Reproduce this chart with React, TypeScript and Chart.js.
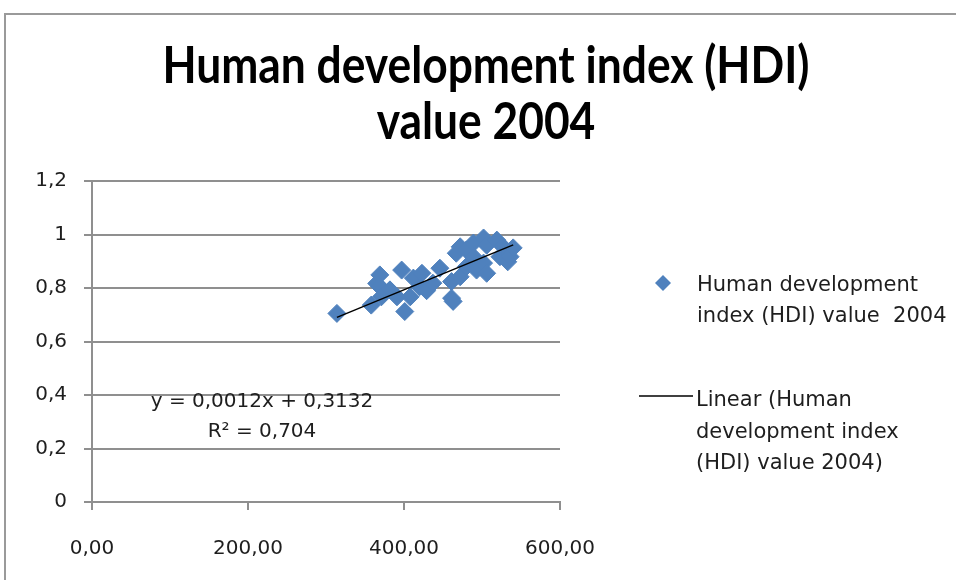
import React, { useEffect, useRef } from "react";
import { Chart, registerables } from "chart.js";

Chart.register(...registerables);

// ---- Data ----
const TITLE_LINES = ["Human development index (HDI)", "value 2004"];
const SERIES_LABEL_LINES = ["Human development", "index (HDI) value  2004"];
const TREND_LABEL_LINES = ["Linear (Human", "development index", "(HDI) value 2004)"];
const EQUATION_TEXT = "y = 0,0012x + 0,3132";
const R2_TEXT = "R\u00B2 = 0,704";
const TREND_SLOPE = 0.0012;
const TREND_INTERCEPT = 0.3132;

const xValues = [
  314, 358, 365, 369, 369, 371, 382, 391, 397, 401,
  408, 412, 420, 423, 429, 437, 446, 461, 461, 463,
  467, 472, 472, 480, 480, 489, 489, 493, 502, 502,
  506, 506, 519, 523, 527, 533, 536, 540,
];
const yValues = [
  0.705, 0.736, 0.817, 0.849, 0.805, 0.767, 0.793, 0.767, 0.867, 0.712,
  0.767, 0.837, 0.805, 0.855, 0.79, 0.818, 0.874, 0.824, 0.762, 0.75,
  0.93, 0.954, 0.842, 0.942, 0.88, 0.968, 0.917, 0.867, 0.987, 0.893,
  0.96, 0.855, 0.979, 0.917, 0.954, 0.898, 0.917, 0.95,
];

const X_MIN = 0;
const X_MAX = 600;
const X_STEP = 200;
const Y_MIN = 0;
const Y_MAX = 1.2;
const Y_STEP = 0.2;

const POINT_COLOR = "#4F81BD";
const GRID_COLOR = "#8f8f8f";
const TEXT_COLOR = "#1e1e1e";

const fmtX = (v: number) => v.toFixed(2).replace(".", ",");
const fmtY = (v: number) => {
  const r = Math.round(v * 10) / 10;
  return String(r).replace(".", ",");
};

const overlayPlugin = {
  id: "overlay",
  afterDraw(chart: any) {
    const ctx: CanvasRenderingContext2D = chart.ctx;
    const area = chart.chartArea;
    ctx.save();

    // Title (horizontally fitted like the original's condensed bold face)
    ctx.fillStyle = "#000";
    ctx.textAlign = "center";
    ctx.textBaseline = "alphabetic";
    ctx.font = "bold 52px Lato";
    const w1 = ctx.measureText(TITLE_LINES[0]).width;
    const sx = 647 / w1;
    const cx = 486;
    [83, 139].forEach((by, i) => {
      ctx.save();
      ctx.translate(cx, by);
      ctx.scale(sx, 1);
      ctx.fillText(TITLE_LINES[i], 0, 0);
      ctx.restore();
    });

    // Trend equation
    ctx.fillStyle = TEXT_COLOR;
    ctx.font = "20px 'DejaVu Sans'";
    ctx.textAlign = "center";
    const ex = area.left + 170;
    ctx.fillText(EQUATION_TEXT, ex, area.bottom - 95);
    ctx.fillText(R2_TEXT, ex, area.bottom - 65);

    // Legend
    const lx = area.right + 77;
    ctx.font = "21px 'DejaVu Sans'";
    ctx.textAlign = "left";
    // diamond marker
    const mx = lx + 26, my = 283, r = 8;
    ctx.fillStyle = POINT_COLOR;
    ctx.beginPath();
    ctx.moveTo(mx, my - r);
    ctx.lineTo(mx + r, my);
    ctx.lineTo(mx, my + r);
    ctx.lineTo(mx - r, my);
    ctx.closePath();
    ctx.fill();
    ctx.fillStyle = TEXT_COLOR;
    SERIES_LABEL_LINES.forEach((t, i) => ctx.fillText(t, lx + 60, 291 + i * 31));
    // line marker
    ctx.strokeStyle = "#000";
    ctx.lineWidth = 1.5;
    ctx.beginPath();
    ctx.moveTo(lx + 2, 396);
    ctx.lineTo(lx + 56, 396);
    ctx.stroke();
    TREND_LABEL_LINES.forEach((t, i) => ctx.fillText(t, lx + 59, 406 + i * 31.5));

    ctx.restore();
  },
};

export default function App() {
  const canvasRef = useRef<HTMLCanvasElement | null>(null);

  useEffect(() => {
    document.body.style.margin = "0";
    const canvas = canvasRef.current;
    if (!canvas) return;
    const points = xValues.map((x, i) => ({ x, y: yValues[i] }));
    const minX = Math.min(...xValues);
    const maxX = Math.max(...xValues);
    const trend = [
      { x: minX, y: TREND_SLOPE * minX + TREND_INTERCEPT },
      { x: maxX, y: TREND_SLOPE * maxX + TREND_INTERCEPT },
    ];
    const chart = new Chart(canvas, {
      type: "scatter",
      data: {
        datasets: [
          {
            type: "line",
            label: TREND_LABEL_LINES.join(" "),
            data: trend,
            borderColor: "#000",
            borderWidth: 1.5,
            pointRadius: 0,
            showLine: true,
            fill: false,
            order: 0,
          } as any,
          {
            label: SERIES_LABEL_LINES.join(" "),
            data: points,
            pointStyle: "rectRot",
            pointRadius: 9,
            backgroundColor: POINT_COLOR,
            borderColor: POINT_COLOR,
            borderWidth: 1,
            order: 1,
          },
        ],
      },
      options: {
        responsive: false,
        animation: false,
        events: [],
        layout: { padding: { left: 0, top: 181, right: 396, bottom: 0 } },
        plugins: {
          legend: { display: false },
          title: { display: false },
          tooltip: { enabled: false },
        },
        scales: {
          x: {
            type: "linear",
            min: X_MIN,
            max: X_MAX,
            afterFit: (s: any) => { s.height = 78; },
            ticks: {
              stepSize: X_STEP,
              callback: (v: any) => fmtX(Number(v)),
              color: TEXT_COLOR,
              font: { family: "'DejaVu Sans'", size: 20 },
              padding: 27,
              maxRotation: 0,
            },
            grid: {
              drawOnChartArea: false,
              drawTicks: true,
              tickLength: 8,
              color: GRID_COLOR,
              lineWidth: 2,
            },
            border: { display: true, color: GRID_COLOR, width: 2 },
          },
          y: {
            type: "linear",
            min: Y_MIN,
            max: Y_MAX,
            afterFit: (s: any) => { s.width = 92; },
            ticks: {
              stepSize: Y_STEP,
              callback: (v: any) => fmtY(Number(v)),
              color: TEXT_COLOR,
              font: { family: "'DejaVu Sans'", size: 20 },
              padding: 17,
            },
            grid: {
              drawOnChartArea: true,
              drawTicks: true,
              tickLength: 8,
              color: GRID_COLOR,
              lineWidth: 2,
            },
            border: { display: true, color: GRID_COLOR, width: 2 },
          },
        },
      },
      plugins: [overlayPlugin],
    });
    return () => chart.destroy();
  }, []);

  return (
    <div style={{ position: "fixed", left: 0, top: 0, width: 956, height: 580, background: "#fff" }}>
      <div
        style={{
          position: "absolute",
          left: 4,
          top: 13,
          width: 1000,
          height: 700,
          borderLeft: "2px solid #9a9a9a",
          borderTop: "2px solid #9a9a9a",
          boxSizing: "border-box",
        }}
      />
      <canvas
        ref={canvasRef}
        width={956}
        height={580}
        style={{ position: "absolute", left: 0, top: 0, width: 956, height: 580 }}
      />
    </div>
  );
}
